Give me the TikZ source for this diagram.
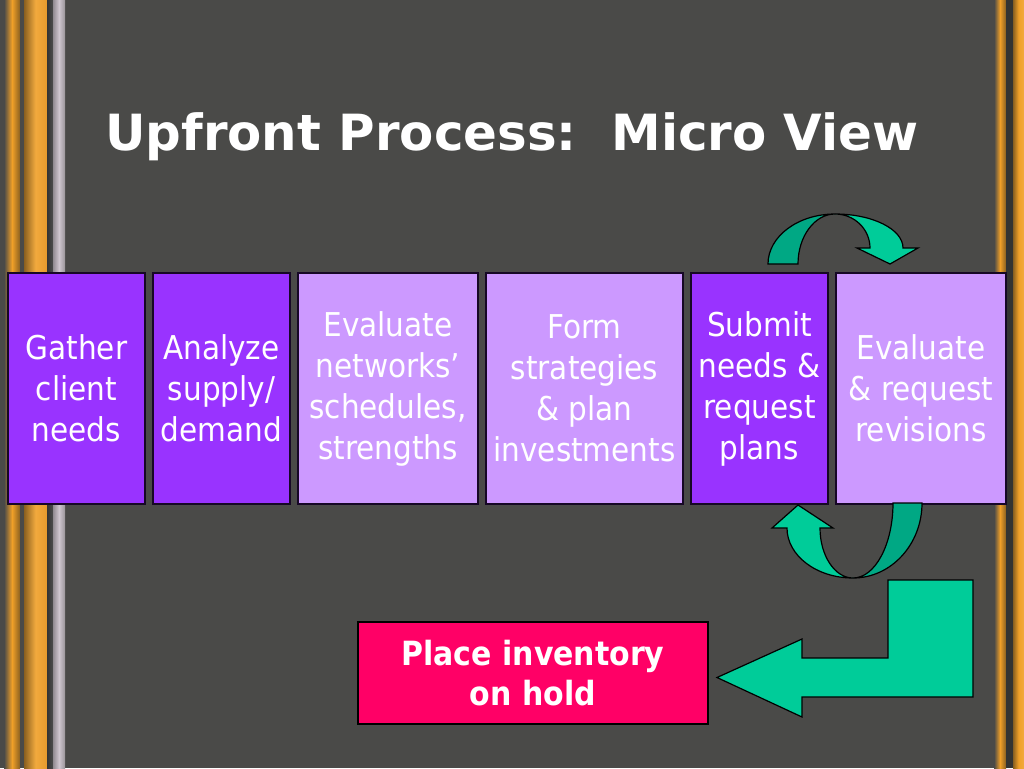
\documentclass[tikz,border=0pt]{standalone}
\usepackage{fontspec}
\setmainfont{DejaVu Sans Condensed}
\newfontfamily\titlefont{DejaVu Sans}
\definecolor{bg}{HTML}{4A4A48}
\definecolor{vio}{HTML}{9933FF}
\definecolor{lilac}{HTML}{CC99FF}
\definecolor{hot}{HTML}{FF0066}
\definecolor{grn}{HTML}{00CC99}
\definecolor{dgrn}{HTML}{00A884}
\definecolor{org}{HTML}{F0A028}
\definecolor{dorg}{HTML}{8A6020}
\definecolor{silv}{HTML}{CFC6CF}
\tikzset{
  boxbase/.style={draw=black!85!vio, line width=1.1pt, inner sep=0pt, text=white, align=center,
    minimum height=173.25pt, font=\fontsize{24.6pt}{30.75pt}\selectfont},
  dkbox/.style={boxbase, fill=vio},
  ltbox/.style={boxbase, fill=lilac},
  hotbox/.style={draw=black, line width=1.1pt, fill=hot, text=white, align=center, inner sep=0pt,
    minimum width=262.5pt, minimum height=76.5pt, font=\fontsize{25pt}{30pt}\selectfont\bfseries},
  arrowshape/.style={draw=black, line width=0.9pt, line join=miter},
}
\begin{document}
\begin{tikzpicture}[x=0.75pt,y=-0.75pt]
\useasboundingbox (0,0) rectangle (1024,768);
\fill[bg] (0,0) rectangle (1024,768);
% left stripes
\shade[left color=bg, right color=dorg, middle color=org] (4,0) rectangle (20,768);
\fill[bg] (20,0) rectangle (24,768);
\shade[left color=dorg, right color=org!80!brown, middle color=org!90!white] (24,0) rectangle (47,768);
\shade[left color=black!80, right color=black!70] (47,0) rectangle (53,768);
\shade[left color=silv!70!black, right color=silv!60!bg, middle color=silv] (53,0) rectangle (65,768);
% right stripes
\shade[left color=bg, right color=dorg, middle color=org] (994,0) rectangle (1006,768);
\fill[bg!70!black] (1006,0) rectangle (1013,768);
\shade[left color=dorg, right color=org!90!white, middle color=org] (1013,0) rectangle (1024,768);
% title
\node[anchor=base west, inner sep=0pt, text=white, font=\titlefont\bfseries\fontsize{37.4pt}{45pt}\selectfont]
  (title) at (105,150) {Upfront Process:\ \ Micro View};
% boxes
\node[dkbox, minimum width=102.75pt] (b1) at (76.5,388.5) {Gather\\client\\needs};
\node[dkbox, minimum width=102.75pt] (b2) at (221.5,388.5) {Analyze\\supply/\\demand};
\node[ltbox, minimum width=135pt] (b3) at (388,388.5) {Evaluate\\networks’\\schedules,\\strengths};
\node[ltbox, minimum width=147.75pt] (b4) at (584.5,388.5) {Form\\strategies\\\& plan\\investments};
\node[dkbox, minimum width=102.75pt] (b5) at (759.5,388.5) {Submit\\needs \&\\request\\plans};
\node[ltbox, minimum width=127.5pt] (b6) at (921,388.5) {Evaluate\\\& request\\revisions};
\node[hotbox] (hold) at (533,673) {Place inventory\\on hold};
% top curved arrow (b5 -> b6)
\draw[arrowshape, fill=dgrn] (768,264) .. controls (768,236.4) and (798,214) .. (835,214)
  .. controls (814.6,214) and (798,236.4) .. (798,264) -- cycle;
\draw[arrowshape, fill=grn] (835,214) .. controls (872.6,214) and (903,229.2) .. (903,248)
  -- (918,248) -- (890,264) -- (857,248) -- (870,248)
  .. controls (870,229.2) and (854.3,214) .. (835,214) -- cycle;
% bottom curved arrow (b6 -> b5)
\draw[arrowshape, fill=dgrn] (922,503) .. controls (922,544.4) and (891.1,578) .. (853,578)
  .. controls (875.1,578) and (893,544.4) .. (893,503) -- cycle;
\draw[arrowshape, fill=grn] (853,578) .. controls (816.5,578) and (787,555.6) .. (787,528)
  -- (772,528) -- (798,505) -- (833,528) -- (820,528)
  .. controls (820,555.6) and (834.8,578) .. (853,578) -- cycle;
% bent arrow to hold box
\draw[arrowshape, fill=grn] (973,580) -- (973,697) -- (802,697) -- (802,717) -- (717,677.5)
  -- (802,639) -- (802,658) -- (888,658) -- (888,580) -- cycle;
\end{tikzpicture}
\end{document}
